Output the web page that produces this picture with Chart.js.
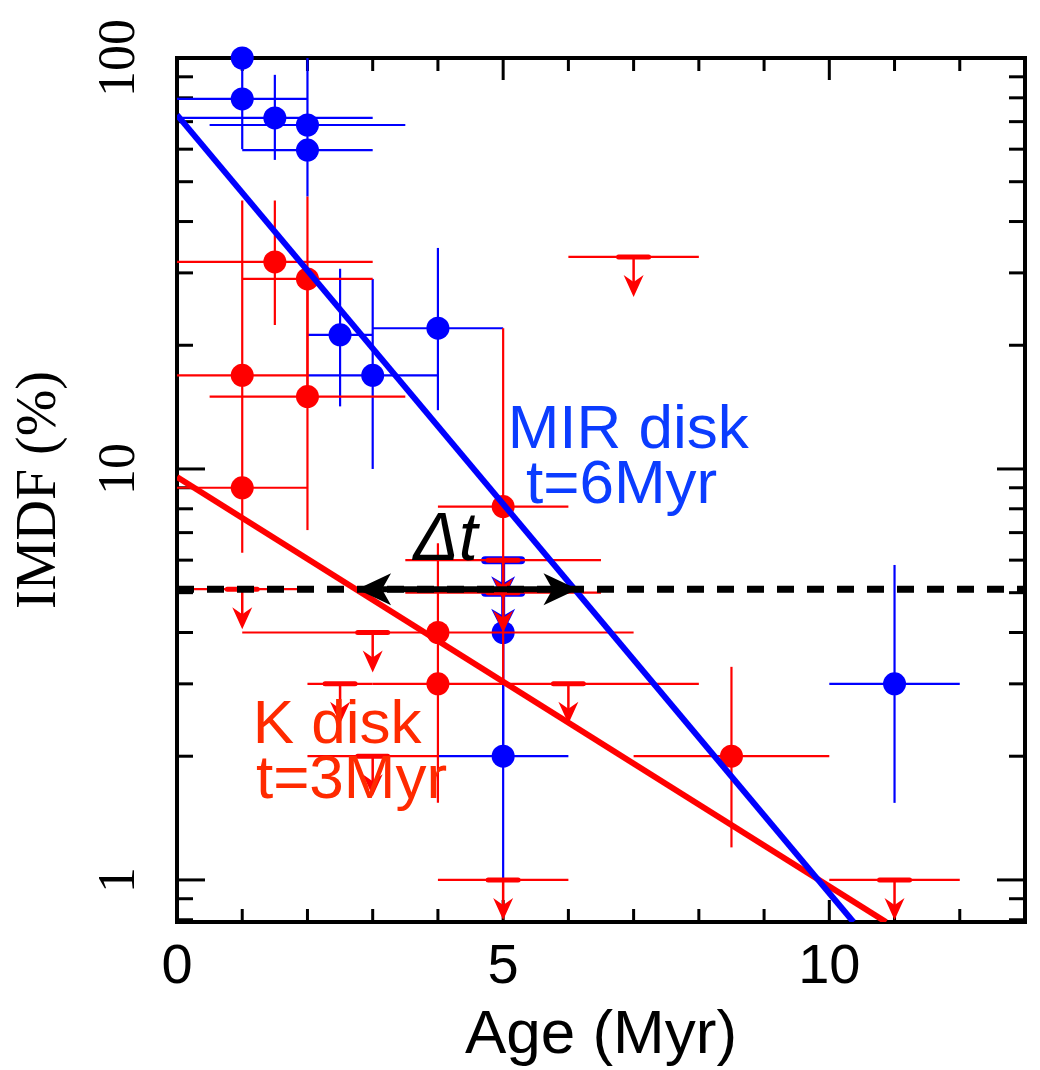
<!DOCTYPE html>
<html><head><meta charset="utf-8">
<script src="https://cdn.jsdelivr.net/npm/chart.js@4/dist/chart.umd.min.js"></script>
<style>html,body{margin:0;padding:0;background:#fff;}#wrap{width:1040px;height:1070px;}</style>
</head><body><div id="wrap"><canvas id="c" width="1040" height="1070"></canvas></div>
<script>
// ---- tick values ----
const xTickLabels = [0, 5, 10];
const xMinorTicks = [1, 2, 3, 4, 6, 7, 8, 9, 11, 12];
const yTickLabels = [1, 10, 100];
const yMinorTicks = [0.8, 0.9, 2, 3, 4, 5, 6, 7, 8, 9, 20, 30, 40, 50, 60, 70, 80, 90];

// ---- MIR disk fraction (blue) ----
const blueX   = [1,    1,    1.5,  2,    2,    2.5,  3,    4,    5,    5,    11];
const blueY   = [100,  79.5, 71.5, 68.7, 59.7, 21.2, 16.9, 22.0, 4.0,  2.0,  3.0];
const blueXLo = [null, 0,    0,    0.5,  1,    2,    2,    3,    null, 4,    10];
const blueXHi = [null, 2,    3,    3.5,  3,    3,    4,    5,    null, 6,    12];
const blueYLo = [null, 60,   56.5, 46,   null, 14.2, 10,   13.9, 2.0,  1.0,  1.54];
const blueYHi = [null, 100,  91,   100,  null, 30.7, 29,   34.5, 6.0,  5.0,  5.84];
const blueLimX = [5, 5];
const blueLimY = [6.0, 5.0];

// ---- K disk fraction (red) ----
const redX   = [1.5,  2,  1,    2,    1,    5,    4,    4,    8.5];
const redY   = [31.9, 29, 16.9, 15.0, 9.0,  8.1,  4.0,  3.0,  2.0];
const redXLo = [0,    1,  0,    0.5,  0,    4,    4,    3,    7];
const redXHi = [3,    3,  2,    3.5,  2,    6,    7,    5,    10];
const redYLo = [22.4, 15, 6.25, 7.1,  null, 3.0,  1.54, null, 1.2];
const redYHi = [45,   46, 45,   29,   null, 22,   6.6,  null, 3.3];
const redLimX   = [1,   3,   2.5, 6,   3,   5,   5,   5,   7,    11];
const redLimY   = [5.1, 4.0, 3.0, 3.0, 2.0, 6.0, 5.0, 1.0, 32.8, 1.0];
const redLimXLo = [0,   1,   2,   5,   2,   3.5, 3.5, 4,   6,    10];
const redLimXHi = [2,   4,   3,   8,   4,   6.5, 6.5, 6,   8,    12];

// ---- fits and threshold ----
const mirFitX = [0, 10.37];
const mirFitY = [72.7, 0.79];
const kFitX = [0, 10.87];
const kFitY = [9.56, 0.79];
const thresholdX = [0, 13];
const thresholdY = 5.1;
const deltaTX = [2.76, 6.14];

const BLUE = '#0000ff', RED = '#ff0000';
const TXT_BLUE = '#0b3cff', TXT_RED = '#ff2a00';
const SANS = '"Liberation Sans", Arial, Helvetica, sans-serif';
const SERIF = '"Liberation Serif", "Times New Roman", serif';

const pts = (xs, ys) => xs.map((x, i) => ({x: x, y: ys[i]}));

const notes = [
  {text: 'MIR disk', x: 5.07, y: 11.25, color: TXT_BLUE, font: '62px ' + SANS},
  {text: 't=6Myr',   x: 5.35, y: 8.27,  color: TXT_BLUE, font: '62px ' + SANS},
  {text: 'K disk',   x: 1.16, y: 2.15,  color: TXT_RED,  font: '62px ' + SANS},
  {text: 't=3Myr',   x: 1.21, y: 1.58,  color: TXT_RED,  font: '62px ' + SANS},
  {text: '\u0394t',  x: 3.62, y: 6.0,   color: '#000',   font: 'italic 68px ' + SANS}
];

function drawUL(ctx, px, py, color, big) {
  const L = 40;
  ctx.save();
  ctx.strokeStyle = color; ctx.fillStyle = color;
  ctx.lineCap = 'round';
  ctx.lineWidth = big ? 8 : 5;
  const hb = big ? 18 : 15;
  ctx.beginPath(); ctx.moveTo(px - hb, py); ctx.lineTo(px + hb, py); ctx.stroke();
  ctx.lineCap = 'butt';
  ctx.lineWidth = big ? 4 : 2.5;
  ctx.beginPath(); ctx.moveTo(px, py); ctx.lineTo(px, py + L - 8); ctx.stroke();
  const hw = big ? 12 : 10, hl = big ? 24 : 22;
  ctx.beginPath();
  ctx.moveTo(px, py + L);
  ctx.lineTo(px - hw, py + L - hl);
  ctx.lineTo(px, py + L - hl + 7);
  ctx.lineTo(px + hw, py + L - hl);
  ctx.closePath(); ctx.fill();
  ctx.restore();
}

const overlay = {
  id: 'overlay',
  beforeDatasetsDraw(chart) {
    const {ctx, chartArea: a, scales: {x, y}} = chart;
    ctx.save();
    ctx.strokeStyle = '#000';
    ctx.lineWidth = 3;
    const tick = (x1, y1, x2, y2) => { ctx.beginPath(); ctx.moveTo(x1, y1); ctx.lineTo(x2, y2); ctx.stroke(); };
    xTickLabels.forEach(v => { const p = x.getPixelForValue(v); tick(p, a.bottom, p, a.bottom - 22); tick(p, a.top, p, a.top + 22); });
    xMinorTicks.forEach(v => { const p = x.getPixelForValue(v); tick(p, a.bottom, p, a.bottom - 13); tick(p, a.top, p, a.top + 13); });
    yTickLabels.forEach(v => { const p = y.getPixelForValue(v); tick(a.left, p, a.left + 28, p); tick(a.right, p, a.right - 28, p); });
    yMinorTicks.forEach(v => { const p = y.getPixelForValue(v); tick(a.left, p, a.left + 16, p); tick(a.right, p, a.right - 16, p); });
    ctx.lineWidth = 4;
    ctx.strokeRect(a.left, a.top, a.right - a.left, a.bottom - a.top);
    ctx.restore();
  },
  beforeDatasetDraw(chart, args) {
    const ds = chart.data.datasets[args.index];
    if (!ds.err) return;
    const {ctx, scales: {x, y}} = chart;
    const e = ds.err;
    ctx.save();
    ctx.strokeStyle = ds.backgroundColor;
    ctx.lineWidth = 2.2;
    e.x.forEach((xv, i) => {
      const px = x.getPixelForValue(xv), py = y.getPixelForValue(e.y[i]);
      if (e.xlo[i] != null) { ctx.beginPath(); ctx.moveTo(x.getPixelForValue(e.xlo[i]), py); ctx.lineTo(x.getPixelForValue(e.xhi[i]), py); ctx.stroke(); }
      if (e.ylo[i] != null) { ctx.beginPath(); ctx.moveTo(px, y.getPixelForValue(e.ylo[i])); ctx.lineTo(px, y.getPixelForValue(e.yhi[i])); ctx.stroke(); }
    });
    ctx.restore();
  },
  afterDatasetDraw(chart, args) {
    const ds = chart.data.datasets[args.index];
    if (!ds.lim) return;
    const {ctx, scales: {x, y}} = chart;
    const l = ds.lim;
    l.x.forEach((xv, i) => {
      const px = x.getPixelForValue(xv), py = y.getPixelForValue(l.y[i]);
      if (l.xlo && l.xlo[i] != null) {
        ctx.save(); ctx.strokeStyle = ds.color; ctx.lineWidth = 2.2;
        ctx.beginPath(); ctx.moveTo(x.getPixelForValue(l.xlo[i]), py); ctx.lineTo(x.getPixelForValue(l.xhi[i]), py); ctx.stroke();
        ctx.restore();
      }
      drawUL(ctx, px, py, ds.color, ds.big);
    });
  },
  afterDatasetsDraw(chart) {
    const {ctx, scales: {x, y}} = chart;
    const x1 = x.getPixelForValue(deltaTX[0]), x2 = x.getPixelForValue(deltaTX[1]);
    const py = y.getPixelForValue(thresholdY);
    const hl = 34, hw = 16, notch = 9;
    ctx.save();
    ctx.strokeStyle = '#000'; ctx.fillStyle = '#000';
    ctx.lineWidth = 6;
    ctx.beginPath(); ctx.moveTo(x1 + hl - notch, py); ctx.lineTo(x2 - hl + notch, py); ctx.stroke();
    ctx.beginPath(); ctx.moveTo(x1, py); ctx.lineTo(x1 + hl, py - hw); ctx.lineTo(x1 + hl - notch, py); ctx.lineTo(x1 + hl, py + hw); ctx.closePath(); ctx.fill();
    ctx.beginPath(); ctx.moveTo(x2, py); ctx.lineTo(x2 - hl, py - hw); ctx.lineTo(x2 - hl + notch, py); ctx.lineTo(x2 - hl, py + hw); ctx.closePath(); ctx.fill();
    ctx.textAlign = 'left'; ctx.textBaseline = 'alphabetic';
    notes.forEach(n => {
      ctx.font = n.font; ctx.fillStyle = n.color;
      ctx.fillText(n.text, x.getPixelForValue(n.x), y.getPixelForValue(n.y));
    });
    ctx.restore();
  }
};

new Chart(document.getElementById('c'), {
  type: 'scatter',
  data: {
    datasets: [
      {label: 'threshold', data: pts(thresholdX, [thresholdY, thresholdY]), showLine: true, borderColor: '#000', borderWidth: 7, borderDash: [17, 13], pointRadius: 0, order: 1},
      {label: 'MIR fit', data: pts(mirFitX, mirFitY), showLine: true, borderColor: BLUE, borderWidth: 6, pointRadius: 0, order: 2},
      {label: 'K fit', data: pts(kFitX, kFitY), showLine: true, borderColor: RED, borderWidth: 6, pointRadius: 0, order: 3},
      {label: 'K upper limits', data: pts(redLimX, redLimY), pointRadius: 0, order: 4, color: RED, big: false,
        lim: {x: redLimX, y: redLimY, xlo: redLimXLo, xhi: redLimXHi}, clip: false},
      {label: 'K disk', data: pts(redX, redY), backgroundColor: RED, borderWidth: 0, pointRadius: 11.5, order: 5, clip: false,
        err: {x: redX, y: redY, xlo: redXLo, xhi: redXHi, ylo: redYLo, yhi: redYHi}},
      {label: 'MIR upper limits', data: pts(blueLimX, blueLimY), pointRadius: 0, order: 6, color: BLUE, big: true,
        lim: {x: blueLimX, y: blueLimY}, clip: false},
      {label: 'MIR disk', data: pts(blueX, blueY), backgroundColor: BLUE, borderWidth: 0, pointRadius: 11.5, order: 7, clip: false,
        err: {x: blueX, y: blueY, xlo: blueXLo, xhi: blueXHi, ylo: blueYLo, yhi: blueYHi}}
    ]
  },
  options: {
    responsive: false,
    animation: false,
    events: [],
    layout: {padding: {top: 58, right: 15, left: 0, bottom: 0}},
    plugins: {legend: {display: false}, tooltip: {enabled: false}},
    scales: {
      x: {
        type: 'linear', min: 0, max: 13, position: 'bottom',
        afterBuildTicks: s => { s.ticks = xTickLabels.map(v => ({value: v})); },
        afterFit: s => { s.height = 148; },
        grid: {display: false, drawTicks: false}, border: {display: false},
        ticks: {autoSkip: false, maxRotation: 0, minRotation: 0, padding: 12, color: '#000',
          font: {family: SANS, size: 56}, callback: v => String(v)},
        title: {display: true, text: 'Age (Myr)', color: '#000', font: {family: SANS, size: 62, lineHeight: 1}, padding: {top: 0, bottom: 3}}
      },
      y: {
        type: 'logarithmic', min: 0.79, max: 100, position: 'left',
        afterBuildTicks: s => { s.ticks = yTickLabels.map(v => ({value: v})); },
        afterFit: s => { s.width = 177; },
        grid: {display: false, drawTicks: false}, border: {display: false},
        ticks: {autoSkip: false, minRotation: 90, maxRotation: 90, crossAlign: 'center', padding: 18, color: '#000',
          font: {family: SERIF, size: 52}, callback: v => String(v)},
        title: {display: true, text: 'IMDF (%)', color: '#000', font: {family: SERIF, size: 56, lineHeight: 1}, padding: {top: 12, bottom: 0}}
      }
    }
  },
  plugins: [overlay]
});
</script>
</body></html>
